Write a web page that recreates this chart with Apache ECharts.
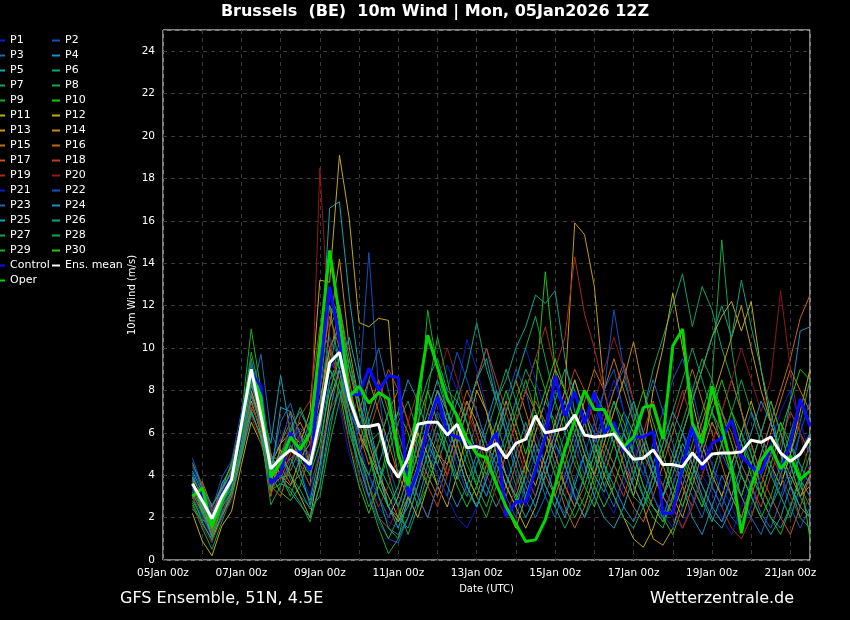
<!DOCTYPE html>
<html>
<head>
<meta charset="utf-8">
<script src="https://cdn.jsdelivr.net/npm/echarts@6/dist/echarts.min.js"></script>
<style>html,body{margin:0;padding:0;background:#000;}#chart{width:850px;height:620px;}</style>
</head>
<body>
<div id="chart"></div>
<script>
// forecast valid hours since 05Jan2026 00z (run 12Z, +6h .. +384h, 6-hourly)
const hours = Array.from({length: 64}, (_, i) => 18 + 6 * i);
const xTickLabels = ['05Jan 00z','07Jan 00z','09Jan 00z','11Jan 00z','13Jan 00z','15Jan 00z','17Jan 00z','19Jan 00z','21Jan 00z'];

const p1  = [3.2,2.5,1.6,2.8,3.6, 6.0,8.5,7.0,3.8,4.5,5.5,4.2,3.0, 5.5,8.0,7.2,5.0,3.5,4.0,2.5,1.8, 1.5,3.5,5.0,6.2,7.5,9.2,8.0,10.4,9.0,7.2,6.0, 4.5,3.2,2.5,3.5,5.0,6.2,8.0,7.0,5.5,4.0,3.0,2.2,3.5,4.8,6.0,4.5, 3.0,2.0,1.5,2.8,4.0,3.2,2.0,1.2,2.5,3.8,5.0,4.2,3.0,2.0,3.2,4.5];
const p2  = [4.8,3.5,2.2,3.2,4.2, 6.5,9.0,7.5,4.5,3.5,4.8,5.2,4.0, 7.0,9.5,8.5,6.0,8.0,14.5,8.0,4.5, 3.0,2.5,4.0,5.5,7.0,6.0,4.5,3.2,2.5,4.0,5.5, 7.5,9.0,8.0,6.0,4.5,3.0,2.2,3.8,5.0,6.5,8.0,9.0,7.0,5.0,4.0,5.5, 7.0,8.5,9.5,8.0,6.0,4.5,3.0,2.0,1.5,2.5,4.0,5.5,4.0,2.5,1.5,2.5];
const p3  = [4.0,3.0,2.5,3.5,4.5, 5.5,7.8,9.7,6.0,5.0,3.8,3.0,2.5, 4.0,7.5,10.5,8.0,5.5,3.5,2.0,1.5, 1.2,2.0,3.5,5.0,4.0,3.0,5.5,7.0,8.5,10.0,8.0, 6.0,4.0,2.8,2.0,3.0,4.5,6.0,8.5,7.0,5.5,6.5,8.0,9.0,7.5,5.5,4.0, 3.0,4.5,6.0,5.0,3.5,2.5,1.8,3.0,4.5,3.5,2.2,1.5,2.8,4.0,6.0,5.0];
const p4  = [3.8,2.2,1.2,2.5,3.4, 5.8,8.0,6.5,4.0,5.0,6.2,7.0,6.0, 9.0,12.0,11.0,8.0,6.0,5.0,3.5,2.5, 2.0,1.5,2.8,4.5,6.0,5.0,3.8,5.0,6.5,5.5,4.5, 3.5,5.0,6.5,5.0,3.5,2.5,4.0,5.5,7.0,6.0,4.5,3.5,2.5,1.8,3.0,4.5, 6.0,5.0,3.5,2.0,1.2,2.5,4.0,3.0,2.0,3.5,5.0,6.5,5.0,7.5,10.8,11.0];
const p5  = [4.2,3.2,2.0,3.6,4.4, 6.4,8.2,7.0,5.5,8.7,6.0,4.5,3.5, 9.0,16.6,16.9,12.4,9.0,6.5,4.5,2.5, 1.8,2.5,4.0,5.5,4.5,6.0,7.5,6.5,5.0,3.5,2.5, 3.5,2.5,4.0,5.5,4.5,3.0,2.0,3.5,5.0,4.0,6.0,7.5,6.0,4.5,3.0,2.5, 1.8,3.0,4.5,6.0,5.0,3.5,2.5,4.0,5.5,4.5,3.0,2.0,1.5,2.5,3.8,3.0];
const p6  = [3.0,1.8,0.9,2.2,3.3, 5.6,8.0,6.2,3.5,4.2,4.8,3.8,2.8, 5.0,8.5,9.5,7.0,5.0,6.5,8.0,6.5, 4.0,5.5,7.0,8.5,9.5,8.0,7.5,9.0,11.2,9.0,7.5, 8.5,10.0,11.0,12.5,12.1,12.7,9.5,7.0,5.5,4.0,3.2,4.5,6.0,5.0,3.5,2.5, 2.0,3.5,5.0,4.0,2.8,1.8,3.0,4.5,6.0,5.0,3.5,2.5,4.0,5.5,4.5,3.5];
const p7  = [2.6,1.5,0.5,1.8,3.0, 5.0,7.5,6.0,2.6,3.5,4.5,5.5,4.5, 6.5,10.0,9.0,6.5,4.0,2.5,3.5,5.0, 6.5,7.5,6.0,4.5,3.5,5.0,6.5,5.5,4.0,3.0,4.5, 6.0,7.5,9.0,8.0,6.0,4.5,3.5,5.0,6.5,8.0,7.0,5.5,4.0,5.5,7.0,9.0, 10.5,12.0,13.5,11.0,12.9,11.8,10.0,8.5,7.0,5.5,4.0,5.0,6.5,5.0,3.5,2.5];
const p8  = [3.4,2.6,1.8,3.0,4.0, 6.2,9.5,7.0,4.5,5.5,6.5,5.0,4.2, 6.0,11.0,12.0,9.5,7.0,5.5,6.0,4.0, 2.5,1.2,2.5,4.0,5.5,7.0,6.0,4.5,3.5,5.0,6.5, 5.0,3.5,4.5,6.0,7.5,6.5,5.0,3.5,2.5,4.0,5.5,7.0,8.5,7.0,5.5,4.5, 3.5,5.0,6.5,8.0,9.5,8.5,15.1,10.0,7.0,5.0,3.5,2.5,3.5,5.0,6.5,8.5];
const p9  = [2.8,2.0,1.2,2.6,3.6, 6.8,10.9,8.0,5.0,4.0,3.0,4.5,6.0, 8.0,12.0,9.0,6.0,4.5,3.0,1.5,0.3, 1.0,3.0,6.0,11.8,9.0,7.0,5.5,4.0,3.0,2.0,3.5, 5.0,6.5,8.0,9.5,8.0,6.0,4.5,3.0,2.0,3.5,5.0,6.5,5.5,4.0,3.0,2.0, 1.5,3.0,4.5,3.5,2.5,4.0,5.5,7.0,6.0,4.5,3.0,2.0,1.2,2.5,4.0,5.5];
const p10 = [3.6,2.9,2.1,3.3,4.6, 6.5,9.2,7.2,4.0,3.2,2.8,3.5,5.0, 7.0,9.0,8.0,5.5,3.5,2.2,3.5,5.5, 7.0,6.0,4.5,3.5,5.0,6.5,5.0,3.5,2.5,4.0,5.5, 4.0,2.8,4.0,8.0,13.6,9.0,6.5,5.0,3.5,2.5,4.0,5.5,7.0,6.0,4.5,3.0, 2.0,1.2,2.5,4.0,5.5,7.0,6.0,4.5,3.0,2.0,3.5,5.0,6.5,5.5,4.0,1.0];
const p11 = [2.2,0.9,0.2,1.6,2.3, 4.5,6.5,5.5,4.0,5.2,4.0,3.0,2.0, 4.5,7.5,9.0,7.0,5.0,4.0,3.0,2.0, 3.0,4.5,6.0,5.0,3.5,2.5,4.0,6.0,8.0,7.0,5.0, 3.5,2.5,1.5,2.5,4.0,5.5,7.0,8.5,7.0,5.5,4.0,3.0,2.0,1.0,0.6,1.5, 3.0,4.5,6.0,7.5,9.0,10.5,11.5,12.2,10.8,12.2,9.0,6.5,5.0,3.5,2.5,2.0];
const p12 = [3.5,2.8,1.0,2.0,3.2, 5.0,7.5,6.0,4.5,5.5,6.0,5.5,7.0, 13.2,13.1,19.1,16.1,11.2,11.0,11.4,11.3, 5.0,3.0,2.0,3.5,5.0,4.5,6.0,7.5,6.5,5.0,3.5, 2.5,1.5,3.0,4.5,6.0,5.0,3.5,2.5,4.0,5.5,7.0,6.0,4.5,3.0,5.0,8.0, 10.0,12.6,10.0,7.5,5.5,4.0,3.0,4.5,6.0,7.5,6.0,4.5,3.5,5.0,7.0,9.0];
const p13 = [3.9,3.0,1.5,2.7,3.8, 6.0,8.0,6.5,5.0,4.0,3.5,4.8,5.5, 7.5,10.0,11.0,8.0,6.0,5.0,4.0,3.0, 2.0,3.5,5.0,6.5,8.0,7.0,5.5,4.0,3.0,4.5,6.0, 7.5,6.0,4.5,3.5,5.0,6.5,8.0,15.9,15.35,12.9,8.0,6.0,4.5,3.5,2.5,1.0, 0.7,1.5,3.0,4.5,6.0,7.5,9.0,10.5,12.0,10.0,8.0,6.5,5.0,4.0,3.0,4.0];
const p14 = [3.1,2.3,1.4,2.9,3.9, 5.5,7.0,5.8,3.2,4.8,5.8,6.5,5.5, 7.0,11.0,14.2,10.0,7.5,5.5,4.0,2.5, 1.8,3.0,4.5,6.0,5.0,4.0,5.5,7.0,8.5,7.0,5.5, 4.0,3.0,4.5,6.0,7.5,9.0,8.0,6.5,5.0,4.0,5.5,7.0,8.5,10.3,8.0,6.0, 4.5,3.0,2.0,3.5,5.0,6.5,5.5,4.0,3.0,4.5,6.0,7.5,6.0,4.5,3.0,3.5];
const p15 = [2.9,3.7,2.5,3.4,4.1, 6.3,8.3,6.8,3.0,5.5,7.0,6.0,4.5, 6.0,9.5,12.0,9.0,7.0,8.5,7.0,5.5, 4.0,3.0,4.5,6.0,7.5,6.5,5.0,3.5,2.5,4.0,5.5, 7.0,8.5,7.0,5.5,4.0,3.0,4.5,6.0,7.5,9.0,8.0,9.5,8.0,6.5,5.0,4.0, 3.0,2.2,3.5,5.0,6.5,8.0,7.0,5.5,4.0,3.0,4.5,6.0,7.5,9.0,8.0,7.0];
const p16 = [3.3,2.4,1.7,3.1,3.7, 5.9,7.8,6.6,4.8,4.4,3.6,4.0,5.0, 8.5,12.5,11.5,8.5,6.0,4.5,5.5,7.0, 8.0,6.5,5.0,4.0,3.0,4.5,6.0,7.5,6.0,4.5,3.5, 5.0,6.5,8.0,7.0,5.5,4.0,2.5,1.5,2.5,4.0,5.5,4.5,3.5,2.5,1.8,3.0, 4.5,6.0,7.5,9.0,7.5,6.0,4.5,3.0,2.0,3.5,5.0,6.5,8.0,9.5,11.4,12.5];
const p17 = [3.7,2.7,1.3,2.4,3.5, 5.2,7.2,6.3,3.5,3.0,4.5,6.0,6.5, 9.0,11.5,10.0,7.5,5.5,7.0,8.5,7.0, 5.5,4.0,3.0,2.0,3.5,5.0,6.5,8.0,7.0,5.5,4.0, 3.0,4.5,6.0,7.5,6.5,5.0,3.5,2.5,3.5,5.0,6.5,8.0,9.3,7.5,6.0,4.5, 3.5,2.5,1.5,2.5,4.0,5.5,7.0,8.5,7.0,5.5,4.0,3.0,2.0,1.2,2.5,4.0];
const p18 = [4.5,3.6,2.3,3.2,4.3, 6.6,8.6,7.4,5.0,3.8,5.0,6.8,7.5, 11.0,10.0,8.5,6.5,5.0,6.0,7.5,9.0, 8.0,6.5,5.0,3.5,2.5,4.0,5.5,7.0,8.5,10.0,8.5, 7.0,5.5,4.0,3.0,4.5,6.0,7.5,9.0,8.0,6.5,5.0,4.0,3.0,4.5,6.0,7.5, 6.0,4.5,3.5,2.5,4.0,5.5,7.0,6.0,4.5,3.5,2.5,4.0,5.5,7.0,6.0,5.0];
const p19 = [3.0,2.1,1.1,2.3,3.1, 5.4,7.4,6.1,3.1,4.2,5.2,4.5,3.5, 5.0,7.0,8.0,6.5,5.0,3.5,2.5,3.5, 5.0,6.5,8.0,7.0,5.5,4.0,5.5,7.0,6.0,4.5,3.5, 5.0,6.5,8.0,9.5,11.0,9.0,10.5,14.3,11.6,10.0,8.0,6.0,4.5,3.5,2.5,3.5, 5.0,6.5,8.0,6.5,5.0,3.5,2.5,1.5,1.0,2.0,3.5,5.0,4.0,3.0,2.0,3.0];
const p20 = [2.5,1.6,0.8,2.0,2.8, 4.8,6.8,5.5,4.2,4.8,6.5,5.5,5.0, 18.5,10.5,7.5,5.5,4.0,3.0,2.0,1.5, 2.5,4.0,5.5,7.0,8.5,10.0,8.5,7.0,5.5,4.0,3.0, 2.0,3.5,5.0,6.5,5.5,4.0,3.0,4.5,6.0,7.5,9.0,10.5,9.0,7.5,6.0,4.5, 3.5,2.5,1.5,2.5,4.0,5.5,7.0,8.5,10.0,8.5,7.0,8.5,12.7,9.0,6.0,4.0];
const p21 = [3.3,2.0,1.0,2.4,3.5, 5.7,8.1,6.9,4.4,5.8,6.8,5.6,4.3, 6.5,9.0,10.0,7.5,5.5,4.0,3.0,2.0, 3.5,5.0,6.5,5.5,4.0,3.0,2.0,1.5,2.5,4.0,5.5, 7.0,8.5,10.0,8.5,7.0,5.5,4.0,2.8,4.0,5.5,7.0,8.5,7.0,5.5,4.0,3.0, 2.2,1.5,2.5,4.0,5.5,4.5,3.5,2.5,1.5,2.5,4.0,5.5,7.0,8.0,6.5,5.0];
const p22 = [4.4,3.3,2.4,3.9,4.7, 7.0,9.3,7.8,4.6,4.6,5.6,6.2,5.8, 8.0,10.5,9.5,7.0,5.0,3.0,1.8,1.0, 0.8,2.0,3.5,5.0,6.5,8.0,9.8,8.5,7.0,5.5,4.0, 3.0,2.0,3.5,5.0,6.5,8.0,7.0,5.5,4.0,6.0,8.0,11.8,9.0,6.5,4.5,3.0, 2.0,3.5,5.0,6.5,5.0,3.5,2.5,4.0,5.5,7.0,6.0,4.5,3.0,4.5,6.0,7.5];
const p23 = [4.1,2.9,1.9,2.9,4.0, 6.1,8.4,7.1,4.3,6.5,7.4,5.8,4.8, 6.0,8.5,9.0,7.0,6.0,8.5,10.0,8.0, 6.0,4.5,3.0,2.0,3.5,5.0,6.5,5.5,4.0,3.0,4.5, 6.0,7.5,6.0,4.5,3.0,2.0,3.5,5.0,6.5,5.0,3.5,2.5,4.0,5.5,7.0,8.5, 7.0,5.5,4.0,3.0,2.0,3.5,5.0,4.0,3.0,2.0,1.2,2.5,4.0,5.5,4.5,3.5];
const p24 = [3.6,2.6,1.5,2.6,3.7, 5.3,7.7,6.4,3.7,4.0,3.2,2.6,2.0, 3.5,6.5,8.0,6.5,4.5,3.0,4.5,6.0, 7.0,8.5,7.5,6.0,4.5,3.5,2.5,3.5,5.0,6.5,8.0, 6.5,5.0,3.5,2.5,4.0,5.5,4.5,3.0,2.0,3.0,4.5,6.0,5.0,3.5,2.5,4.0, 5.5,7.0,6.0,4.5,3.5,2.5,1.8,3.0,4.5,6.0,7.5,6.5,5.0,3.5,2.5,2.0];
const p25 = [3.9,2.4,1.1,2.1,3.0, 4.9,6.9,5.9,3.9,7.2,7.0,4.2,2.6, 4.5,7.0,9.0,10.5,8.5,6.0,4.0,2.5, 1.5,2.8,4.5,6.5,8.0,6.5,5.0,3.5,2.5,3.8,5.0, 4.0,3.0,2.0,3.0,4.5,6.0,7.5,6.0,4.5,3.0,2.0,1.5,2.5,4.0,5.5,4.0, 3.0,4.0,5.5,4.5,3.0,2.0,1.5,2.5,4.0,3.0,2.0,1.2,2.0,3.5,5.0,6.0];
const p26 = [4.6,3.4,2.6,3.3,4.2, 6.3,8.8,7.6,4.8,4.8,4.2,5.3,6.5, 7.5,9.0,11.5,9.0,7.5,6.0,4.5,3.5, 2.5,4.0,5.5,7.0,8.5,7.0,5.5,7.0,8.5,9.5,7.5, 6.0,4.5,3.0,4.5,6.0,7.5,9.0,8.0,6.5,5.0,3.5,4.5,6.0,7.5,6.0,4.5, 3.0,4.5,6.0,7.5,9.0,10.5,12.0,10.5,13.2,11.0,9.0,7.0,5.0,3.5,2.0,1.5];
const p27 = [2.4,1.9,1.6,2.7,3.4, 5.1,7.1,5.7,3.4,3.9,4.0,3.3,2.4, 3.0,5.5,7.5,9.5,7.5,5.0,3.0,1.5, 1.0,2.0,3.5,5.0,6.5,5.5,4.0,3.0,4.5,6.0,7.5, 9.0,7.5,6.0,4.5,3.5,2.5,1.5,2.5,4.0,5.5,4.5,3.0,2.0,1.5,2.5,4.0, 5.5,7.0,8.5,10.0,8.5,7.0,5.5,4.0,3.0,4.5,6.0,7.5,6.0,4.5,3.0,2.0];
const p28 = [3.2,2.2,1.4,2.8,3.9, 6.6,9.8,7.7,4.1,4.9,6.0,7.2,6.0, 7.0,9.0,8.0,6.5,5.0,4.0,5.5,7.0, 5.5,4.0,2.5,3.5,5.0,6.5,8.0,6.5,5.0,4.0,5.5, 7.0,8.5,10.0,11.5,9.5,7.5,6.0,4.5,3.5,5.0,6.5,5.5,4.0,3.0,2.5,3.5, 5.0,6.5,5.0,3.5,2.5,4.0,5.5,7.0,8.5,7.0,5.5,4.0,3.0,2.0,3.5,5.0];
const p29 = [2.7,1.7,1.0,2.5,3.2, 5.5,8.4,6.6,3.3,3.6,3.4,2.7,1.8, 3.5,6.0,8.5,7.0,5.0,3.5,2.0,1.0, 2.0,3.5,5.0,8.0,10.5,8.5,6.5,5.0,3.5,2.5,4.0, 5.5,7.0,8.5,7.0,5.5,4.0,3.0,2.0,3.0,4.5,6.0,7.5,6.5,5.0,3.5,2.5, 1.8,2.8,4.0,5.5,7.0,8.5,7.0,5.5,4.0,3.0,2.0,3.0,4.5,6.0,7.5,6.5];
const p30 = [3.5,2.5,1.5,3.0,3.8, 6.1,8.7,7.3,4.7,4.3,5.4,4.7,4.0, 5.5,8.0,9.5,8.0,6.5,5.0,3.5,2.5, 3.5,5.0,6.5,8.0,6.5,5.0,3.5,2.5,3.5,5.0,6.5, 8.0,6.5,5.0,6.5,8.0,9.5,8.0,6.5,5.0,3.5,2.5,3.5,5.0,6.5,8.0,6.5, 5.0,3.5,2.5,4.0,5.5,7.0,8.5,7.0,5.5,4.0,3.0,4.5,6.0,7.5,9.0,8.5];

const control = [3.5,3.0,1.9,3.1,3.9, 6.3,8.8,8.2,3.6,4.1,6.0,5.0,4.25, 8.8,12.9,10.4,7.8,7.8,9.05,8.0,8.7, 8.6,3.0,4.25,6.3,7.7,6.0,5.8,5.5,5.35,5.2,6.0, 2.05,2.75,2.75,4.25,5.8,8.7,6.8,7.9,6.45,7.9,6.0,6.5,5.1,5.8,5.8,6.06, 2.2,2.2,4.4,6.3,4.25,5.5,5.75,6.6,4.9,4.4,4.1,5.35,4.25,5.5,7.6,6.3];
const ensMean = [3.6,2.8,1.95,3.0,3.8, 6.4,9.0,6.8,4.3,4.8,5.2,4.9,4.5, 6.6,9.3,9.8,7.6,6.3,6.3,6.4,4.6, 3.9,4.8,6.4,6.5,6.5,5.9,6.4,5.3,5.35,5.2,5.5, 4.8,5.5,5.7,6.8,6.0,6.1,6.2,6.85,5.9,5.8,5.85,5.95,5.3,4.75,4.8,5.2, 4.5,4.5,4.4,5.05,4.5,5.0,5.05,5.05,5.1,5.65,5.55,5.8,5.05,4.65,5.0,5.75];
const oper = [3.0,3.4,1.6,2.8,3.8, 6.3,8.8,7.7,3.9,4.6,5.8,5.2,6.0, 10.2,14.6,11.5,7.7,8.2,7.4,7.9,7.6, 5.0,3.5,7.7,10.6,9.1,7.6,6.8,5.7,5.0,4.8,3.6, 2.5,1.7,0.87,0.95,1.9,3.5,5.2,6.6,8.0,7.1,7.1,6.1,5.35,5.8,7.2,7.3, 5.7,10.1,10.9,6.45,5.5,8.2,6.3,4.4,1.26,3.5,4.7,5.35,4.3,4.9,3.8,4.2];

const members = [p1,p2,p3,p4,p5,p6,p7,p8,p9,p10,p11,p12,p13,p14,p15,p16,p17,p18,p19,p20,p21,p22,p23,p24,p25,p26,p27,p28,p29,p30];
const memberColors = ['#0c1cc8','#1450c0','#1a6ab8','#1a8cc0','#16a2b2','#10a284','#10a262','#10a844','#18b022','#22c212',
                      '#b8b012','#c2aa16','#c29a16','#c28a16','#c27216','#c26616','#c25816','#b84020','#a82a18','#901818'];

const pairs = arr => arr.map((v, i) => [hours[i], v]);

const series = members.map((m, i) => ({
  name: 'P' + (i + 1), type: 'line', data: pairs(m), symbol: 'none', silent: true,
  lineStyle: {width: 1, color: memberColors[i % 20]}, itemStyle: {color: memberColors[i % 20]}, z: 2
}));
series.push({name: 'Control', type: 'line', data: pairs(control), symbol: 'none', lineStyle: {width: 3, color: '#0a0aff'}, itemStyle: {color: '#0a0aff'}, z: 3});
series.push({name: 'Oper', type: 'line', data: pairs(oper), symbol: 'none', lineStyle: {width: 3, color: '#00d800'}, itemStyle: {color: '#00d800'}, z: 4});
series.push({name: 'Ens. mean', type: 'line', data: pairs(ensMean), symbol: 'none', lineStyle: {width: 3, color: '#ffffff'}, itemStyle: {color: '#ffffff'}, z: 5});

const col1 = [], col2 = [];
for (let i = 1; i <= 30; i++) (i % 2 ? col1 : col2).push('P' + i);
col1.push('Control', 'Oper');
col2.push('Ens. mean');

const legendBase = {
  orient: 'vertical', top: 34, itemWidth: 8, itemHeight: 2, itemGap: 2, icon: 'rect',
  selectedMode: false, padding: 0,
  textStyle: {color: '#fff', fontSize: 11, lineHeight: 13, fontFamily: 'DejaVu Sans'},
  itemStyle: {borderWidth: 0}
};

const chart = echarts.init(document.getElementById('chart'), null, {renderer: 'canvas'});
chart.setOption({
  backgroundColor: '#000',
  animation: false,
  textStyle: {fontFamily: 'DejaVu Sans'},
  title: {
    text: 'Brussels  (BE)  10m Wind | Mon, 05Jan2026 12Z',
    left: 435, top: 4, textAlign: 'center', padding: 0,
    textStyle: {color: '#fff', fontSize: 16, fontWeight: 'bold', fontFamily: 'DejaVu Sans'}
  },
  legend: [
    Object.assign({}, legendBase, {left: -3, data: col1}),
    Object.assign({}, legendBase, {left: 52, data: col2})
  ],
  grid: {left: 163, right: 40, top: 30, bottom: 60, containLabel: false, outerBoundsMode: 'none',
         show: true, borderColor: '#ffffff', borderWidth: 1, backgroundColor: 'transparent'},
  xAxis: {
    type: 'value', min: 0, max: 396, interval: 24,
    axisLine: {show: false},
    axisTick: {show: false},
    axisLabel: {color: '#fff', fontSize: 10.5, margin: 8, showMaxLabel: false,
      formatter: v => (v % 48 === 0 && v <= 384) ? xTickLabels[v / 48] : ''},
    splitLine: {show: true, lineStyle: {color: '#3a3a3a', type: [4, 4], width: 1}},
    name: 'Date (UTC)', nameLocation: 'middle', nameGap: 24,
    nameTextStyle: {color: '#fff', fontSize: 10}
  },
  yAxis: {
    type: 'value', min: 0, max: 25, interval: 2,
    axisLine: {show: false},
    axisTick: {show: false},
    axisLabel: {color: '#fff', fontSize: 10.5, margin: 8, formatter: v => v > 24 ? '' : String(v)},
    splitLine: {show: true, lineStyle: {color: '#3a3a3a', type: [4, 4], width: 1}},
    name: '10m Wind (m/s)', nameLocation: 'middle', nameGap: 26, nameRotate: 90, nameMoveOverlap: false,
    nameTextStyle: {color: '#fff', fontSize: 10}
  },
  graphic: [
    {type: 'text', left: 120, top: 591, style: {text: 'GFS Ensemble, 51N, 4.5E', fill: '#fff', fontSize: 16, fontFamily: 'DejaVu Sans'}},
    {type: 'text', left: 650, top: 591, style: {text: 'Wetterzentrale.de', fill: '#fff', fontSize: 16, fontFamily: 'DejaVu Sans'}}
  ],
  series: series
});
</script>
</body>
</html>
